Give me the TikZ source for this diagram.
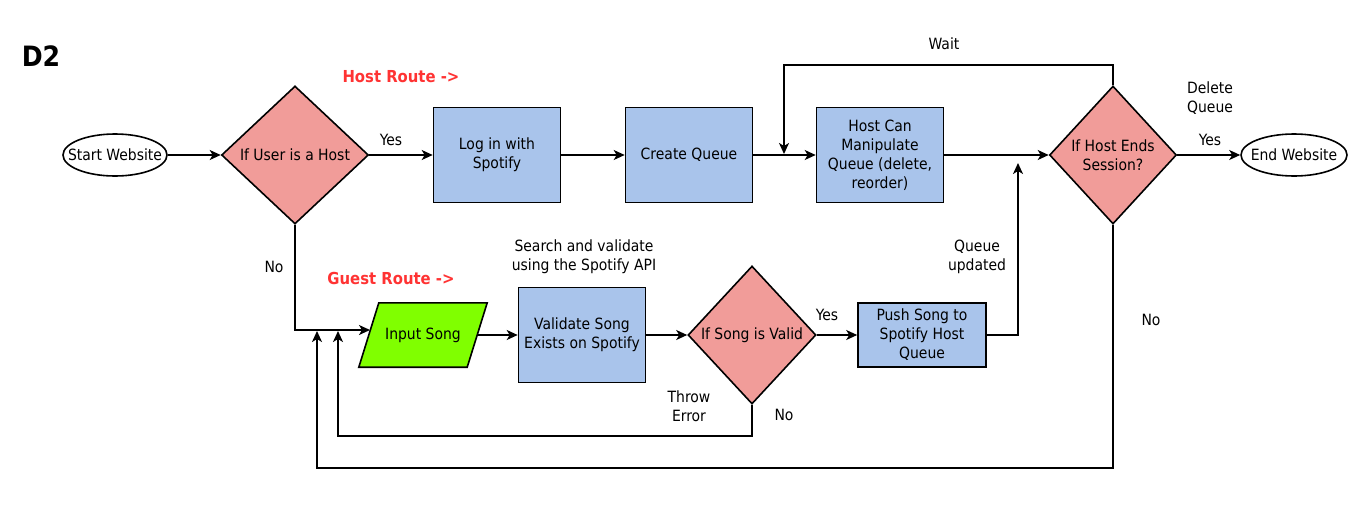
\documentclass[tikz,border=0pt]{standalone}
\usepackage{fontspec}
\setmainfont{DejaVu Sans Condensed}
\usetikzlibrary{shapes.geometric,arrows.meta}
\definecolor{pinkf}{HTML}{F19C99}
\definecolor{bluef}{HTML}{A9C4EB}
\definecolor{greenf}{HTML}{80FF00}
\definecolor{routered}{HTML}{FF3333}
\tikzset{
  base/.style={draw=black, line width=1.6pt, inner sep=0pt, align=center, font=\fontsize{15.5}{19}\selectfont},
  term/.style={base, ellipse, fill=white, minimum width=104pt, minimum height=42pt},
  dia/.style={base, diamond, fill=pinkf},
  proc/.style={base, rectangle, fill=bluef, minimum width=127pt},
  iobox/.style={inner sep=0pt, align=center, font=\fontsize{15.5}{19}\selectfont, minimum width=128pt, minimum height=64pt},
  txt/.style={inner sep=0pt, align=center, font=\fontsize{15.5}{19}\selectfont},
  route/.style={inner sep=0pt, text=routered, font=\fontsize{16.5}{19}\selectfont\bfseries},
  arr/.style={line width=1.6pt, -{Stealth[length=11pt,width=10pt,inset=3pt]}},
  ln/.style={line width=1.6pt}
}
\begin{document}
\begin{tikzpicture}[x=1pt,y=-1pt]
\useasboundingbox[fill=white] (0,0) rectangle (1367,517);

\node[inner sep=0pt, font=\fontsize{28}{30}\selectfont\bfseries] (title) at (41,56) {D2};
\node[route] (host) at (401,77) {Host Route ->};
\node[route] (guest) at (391,278) {Guest Route ->};

% top row
\node[term] (start) at (115,155) {};
\node[txt] (startt) at (start) {Start Website};
\node[dia, minimum width=147pt, minimum height=138pt] (d1) at (295,155) {};
\node[txt] (d1t) at (d1) {If User is a Host};
\node[proc, minimum height=95pt] (login) at (497,155) {Log in with\\Spotify};
\node[proc, minimum height=95pt] (create) at (689,155) {Create Queue};
\node[proc, minimum height=95pt] (manip) at (880,155) {Host Can\\Manipulate\\Queue (delete,\\reorder)};
\node[dia, minimum width=127pt, minimum height=138pt] (d2) at (1113,155) {};
\node[txt] (d2t) at (d2) {If Host Ends\\Session?};
\node[term, minimum width=106pt] (end) at (1294,155) {};
\node[txt] (endt) at (end) {End Website};

% bottom row
\node[iobox] (input) at (423,335) {};
\filldraw[fill=greenf, draw=black, line width=1.6pt, line join=miter]
  (input.south west) -- ([xshift=-20pt]input.south east) -- (input.north east)
  -- ([xshift=20pt]input.north west) -- cycle;
\node[txt] (inputt) at (input) {Input Song};
\node[proc, minimum height=95pt] (valid) at (582,335) {Validate Song\\Exists on Spotify};
\node[dia, minimum width=128pt, minimum height=138pt] (d3) at (752,335) {};
\node[txt] (d3t) at (d3) {If Song is Valid};
\node[proc, minimum width=128pt, minimum height=64pt] (push) at (922,335) {Push Song to\\Spotify Host\\Queue};

% labels
\node[txt] (lyes1) at (391,140) {Yes};
\node[txt] (lwait) at (944,44) {Wait};
\node[txt] (ldel) at (1210,98) {Delete\\Queue};
\node[txt] (lyes2) at (1210,140) {Yes};
\node[txt] (lno1) at (274,267) {No};
\node[txt] (lsearch) at (584,257) {Search and validate\\using the Spotify API};
\node[txt] (lqu) at (977,257) {Queue\\updated};
\node[txt] (lyes3) at (827,315) {Yes};
\node[txt] (lthrow) at (689,406) {Throw\\Error};
\node[txt] (lno2) at (784,415) {No};
\node[txt] (lno3) at (1151,320) {No};

% junction coordinates
\coordinate (wj) at (784,154);
\coordinate (qj) at (1018,163);
\coordinate (j1) at (338,331);
\coordinate (j2) at (317,331);
\coordinate (inw) at (370,330);
\coordinate (ine) at (477,335);

% connectors
\draw[arr] (start) -- (d1);
\draw[arr] (d1) -- (login);
\draw[arr] (login) -- (create);
\draw[arr] (create) -- (manip);
\draw[arr] (manip) -- (d2);
\draw[arr] (d2) -- (end);
\draw[arr] (d2.north) -- (d2.north |- 0,65) -| (wj);
\draw[arr] (d1.south) |- (inw);
\draw[arr] (ine) -- (valid);
\draw[arr] (valid) -- (d3);
\draw[arr] (d3) -- (push);
\draw[arr] (push.east) -| (qj);
\draw[arr] (d3.south) -- (d3.south |- 0,436) -| (j1);
\draw[arr] (d2.south) -- (d2.south |- 0,468) -| (j2);
\end{tikzpicture}
\end{document}
